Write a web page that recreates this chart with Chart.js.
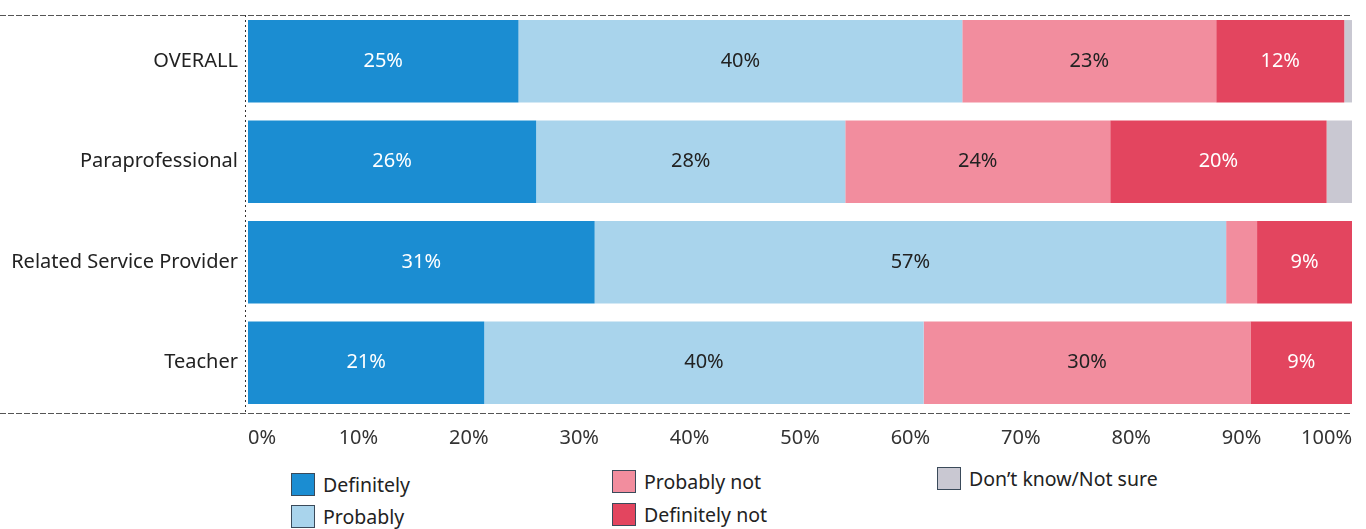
<!DOCTYPE html>
<html>
<head>
<meta charset="utf-8">
<script src="https://cdn.jsdelivr.net/npm/chart.js@4.4.1/dist/chart.umd.min.js"></script>
<style>
    html, body { margin: 0; padding: 0; background: #fff; }
    #wrap { position: relative; width: 1366px; height: 529px; overflow: hidden; font-family: "Noto Sans", sans-serif; }
    #surveyChart { position: absolute; left: 0; top: 0; }
    .legend-item { position: absolute; display: flex; align-items: center; font-size: 19.5px; color: #222; white-space: nowrap; }
    .legend-item .swatch { width: 22px; height: 21px; border: 1px solid #3a4a5a; margin-right: 8px; box-sizing: content-box; }
</style>
</head>
<body>
<div id="wrap">
    <canvas id="surveyChart" width="1366" height="460"></canvas>
    <div id="legend"></div>
</div>
<script>
const categories = ["OVERALL", "Paraprofessional", "Related Service Provider", "Teacher"];

const seriesNames = ["Definitely", "Probably", "Probably not", "Definitely not", "Don\u2019t know/Not sure"];
const seriesColors = ["#1b8dd2", "#a9d4ec", "#f28d9e", "#e3455f", "#c9c8d2"];
const labelColors = ["#ffffff", "#222222", "#222222", "#ffffff", "#222222"];

const definitely    = [24.5, 26.1, 31.4, 21.4];
const probably      = [40.2, 28.0, 57.2, 39.8];
const probablyNot   = [23.0, 24.0, 2.8, 29.6];
const definitelyNot = [11.6, 19.6, 8.6, 9.2];
const dontKnow      = [0.7, 2.3, 0, 0];

const xTicks = [0, 10, 20, 30, 40, 50, 60, 70, 80, 90, 100];

const seriesValues = [definitely, probably, probablyNot, definitelyNot, dontKnow];

// segment labels, only where the segment is wide enough
const segmentLabels = {
    id: "segmentLabels",
    afterDatasetsDraw(chart) {
        const ctx = chart.ctx;
        ctx.save();
        ctx.font = '20px "Noto Sans", sans-serif';
        ctx.textAlign = "center";
        ctx.textBaseline = "middle";
        chart.data.datasets.forEach((ds, i) => {
            const meta = chart.getDatasetMeta(i);
            meta.data.forEach((bar, j) => {
                const v = ds.data[j];
                if (v < 5) return;
                ctx.fillStyle = labelColors[i];
                ctx.fillText(Math.round(v) + "%", (bar.x + bar.base) / 2, bar.y);
            });
        });
        ctx.restore();
    }
};

// dashed frame lines above and below the bars, dotted line on the left
const frameLines = {
    id: "frameLines",
    beforeDatasetsDraw(chart) {
        const ctx = chart.ctx;
        const area = chart.chartArea;
        ctx.save();
        ctx.strokeStyle = "#555";
        ctx.lineWidth = 1;
        ctx.setLineDash([6, 2]);
        ctx.beginPath();
        ctx.moveTo(0, area.top + 4.5);
        ctx.lineTo(area.right, area.top + 4.5);
        ctx.moveTo(0, area.bottom + 0.5);
        ctx.lineTo(area.right, area.bottom + 0.5);
        ctx.stroke();
        ctx.setLineDash([2, 3]);
        ctx.strokeStyle = "#333";
        ctx.beginPath();
        ctx.moveTo(area.left - 2.5, area.top + 4);
        ctx.lineTo(area.left - 2.5, area.bottom + 2);
        ctx.stroke();
        ctx.restore();
    }
};

Chart.defaults.font.family = '"Noto Sans", sans-serif';
Chart.defaults.color = "#222";

const ctx = document.getElementById("surveyChart");
const surveyChart = new Chart(ctx, {
    type: "bar",
    data: {
        labels: categories,
        datasets: seriesNames.map((name, i) => ({
            label: name,
            data: seriesValues[i],
            backgroundColor: seriesColors[i],
            borderWidth: 0,
            barPercentage: 0.82,
            categoryPercentage: 1
        }))
    },
    options: {
        indexAxis: "y",
        responsive: false,
        animation: false,
        layout: { padding: { top: 11, right: 14, left: 0, bottom: 0 } },
        plugins: {
            legend: { display: false },
            tooltip: { enabled: false }
        },
        scales: {
            x: {
                stacked: true,
                min: 0,
                max: 100,
                afterBuildTicks(scale) {
                    scale.ticks = xTicks.map(v => ({ value: v }));
                },
                afterFit(scale) {
                    scale.height = 47;
                    scale.paddingLeft = 0;
                    scale.paddingRight = 0;
                },
                grid: { display: false, drawTicks: false },
                border: { display: false },
                ticks: {
                    padding: 13,
                    align: "inner",
                    color: "#333",
                    font: { size: 20 },
                    maxRotation: 0,
                    autoSkip: false,
                    callback: v => v + "%"
                }
            },
            y: {
                stacked: true,
                afterFit(scale) {
                    scale.width = 248;
                    scale.paddingTop = 0;
                    scale.paddingBottom = 0;
                },
                grid: { display: false, drawTicks: false },
                border: { display: false },
                ticks: {
                    padding: 10,
                    color: "#222",
                    font: { size: 20 }
                }
            }
        }
    },
    plugins: [frameLines, segmentLabels]
});

// legend laid out in three columns under the axis
const legendSpots = [
    { left: 291, top: 471 },
    { left: 291, top: 503 },
    { left: 612, top: 468 },
    { left: 612, top: 501 },
    { left: 937, top: 465 }
];
const legendEl = document.getElementById("legend");
seriesNames.forEach((name, i) => {
    const item = document.createElement("div");
    item.className = "legend-item";
    item.style.left = legendSpots[i].left + "px";
    item.style.top = legendSpots[i].top + "px";
    item.innerHTML = `<span class="swatch" style="background:${seriesColors[i]}"></span><span>${name}</span>`;
    legendEl.appendChild(item);
});
</script>
</body>
</html>
